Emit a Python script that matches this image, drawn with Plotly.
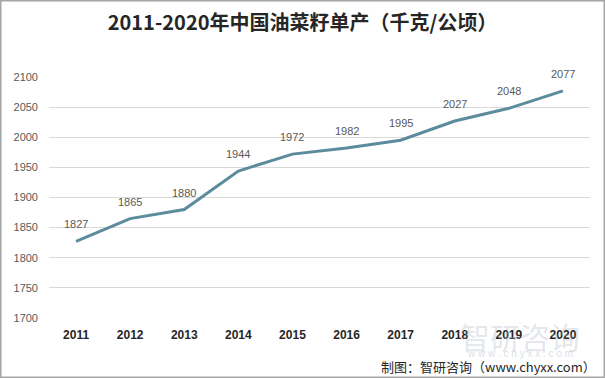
import plotly.graph_objects as go

years = ["2011", "2012", "2013", "2014", "2015", "2016", "2017", "2018", "2019", "2020"]
values = [1827, 1865, 1880, 1944, 1972, 1982, 1995, 2027, 2048, 2077]
y_ticks = [1700, 1750, 1800, 1850, 1900, 1950, 2000, 2050, 2100]

fig = go.Figure()
fig.add_trace(go.Scatter(
    x=years, y=values, mode="lines",
    line=dict(color="#5b8b9c", width=3),
    hoverinfo="skip"
))

for i, v in enumerate(values):
    fig.add_annotation(x=i, y=v, text=str(v), showarrow=False, yshift=17,
                       font=dict(family="Liberation Sans, Arial", size=11, color="#595959"))

fig.update_layout(
    width=605, height=378,
    margin=dict(l=49, r=15, t=77, b=60),
    paper_bgcolor="white", plot_bgcolor="white",
    showlegend=False,
    title=dict(text="<b>2011-2020年中国油菜籽单产（千克/公顷）</b>",
               x=0.5, xanchor="center", y=0.94, yanchor="middle",
               font=dict(family="Noto Sans CJK SC", size=20, color="#262626")),
    xaxis=dict(type="category", showgrid=False, showline=False, zeroline=False,
               range=[-0.5, 9.5],
               tickfont=dict(family="Liberation Sans, Arial", size=12, color="#262626"),
               ticks="", ticklabelstandoff=8, tickprefix="<b>", ticksuffix="</b>"),
    yaxis=dict(range=[1700, 2100], tickvals=y_ticks, showgrid=True, gridcolor="#d9d9d9",
               gridwidth=1, zeroline=False, showline=False, ticks="",
               tickfont=dict(family="Liberation Sans, Arial", size=11, color="#595959"),
               ticklabelstandoff=10),
)

fig.add_shape(type="rect", xref="paper", yref="paper",
              x0=-48.5/541, y0=-59.5/241, x1=1+14.5/541, y1=1+76.5/241,
              line=dict(color="#a6a6a6", width=2))

fig.add_annotation(text="智研咨询", xref="paper", yref="paper", x=(520-49)/541, y=(318-336)/241,
                   showarrow=False, font=dict(family="Noto Sans CJK SC", size=30, color="rgba(160,172,185,0.3)"),
                   xanchor="center", yanchor="middle")
fig.add_annotation(text="w w w . c h y x x . c o m", xref="paper", yref="paper", x=(520-49)/541, y=(318-353)/241,
                   showarrow=False, font=dict(family="Liberation Sans", size=10, color="rgba(160,172,185,0.4)"),
                   xanchor="center", yanchor="middle")
fig.add_annotation(text="制图：智研咨询（www.chyxx.com）", xref="paper", yref="paper",
                   x=(598-49)/541, y=(318-366)/241, showarrow=False, xanchor="right", yanchor="middle",
                   font=dict(family="Noto Sans CJK SC", size=13, color="#262626"))

fig.write_html("out.html", config={"displayModeBar": False},
               post_script="document.body.style.margin='0';document.body.style.overflow='hidden';")
